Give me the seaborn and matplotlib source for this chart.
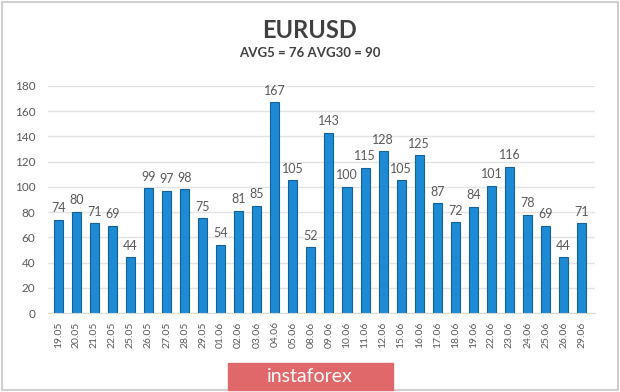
import pandas as pd
import matplotlib.pyplot as plt
import seaborn as sns
from matplotlib.patches import Rectangle

dates = ['19.05', '20.05', '21.05', '22.05', '25.05', '26.05', '27.05', '28.05',
         '29.05', '01.06', '02.06', '03.06', '04.06', '05.06', '08.06', '09.06',
         '10.06', '11.06', '12.06', '15.06', '16.06', '17.06', '18.06', '19.06',
         '22.06', '23.06', '24.06', '25.06', '26.06', '29.06']
values = [74, 80, 71, 69, 44, 99, 97, 98, 75, 54, 81, 85, 167, 105, 52, 143,
          100, 115, 128, 105, 125, 87, 72, 84, 101, 116, 78, 69, 44, 71]
title = 'EURUSD'
subtitle = 'AVG5 = 76 AVG30 = 90'


def set_plt_params():
    sns.set_style('white')
    plt.rcParams['font.family'] = ['Lato', 'DejaVu Sans']


def volatility_plot(df):
    fig = plt.figure(figsize=(6.2, 3.92), dpi=100)
    fig.patch.set_facecolor('white')
    fig.patches.append(Rectangle((0.003, 0.004), 0.994, 0.992, transform=fig.transFigure,
                                 fill=False, edgecolor='#cfcfcf', lw=1.5))
    ax = fig.add_axes([0.077, 0.2015, 0.883, 0.5795])
    sns.barplot(x='date', y='value', data=df, ax=ax, color='#1d8bd3',
                width=0.5, edgecolor='#13609a', linewidth=0.8, saturation=1)
    ax.set_ylim(0, 180)
    ax.set_xlim(-0.58, 29.75)
    ax.set_yticks(range(0, 181, 20))
    ax.yaxis.grid(True, color='#e3e3e3', lw=1)
    ax.set_axisbelow(True)
    for s in ['top', 'right', 'left']:
        ax.spines[s].set_visible(False)
    ax.spines['bottom'].set_color('#d9d9d9')
    ax.set_xlabel('')
    ax.set_ylabel('')
    ax.tick_params(axis='x', rotation=90, labelsize=7.5, colors='#595959', length=0, pad=6)
    ax.tick_params(axis='y', labelsize=8.5, colors='#595959', length=0, pad=9)
    for c in ax.containers:
        ax.bar_label(c, padding=4, fontsize=9, color='#595959')

    fig.text(0.5, 0.922, title, ha='center', va='center', fontsize=17,
             fontweight='bold', color='#404040')
    fig.text(0.5, 0.864, subtitle, ha='center', va='center', fontsize=9.5,
             fontweight='bold', color='#404040')

    # instaforex badge
    fig.patches.append(Rectangle((228 / 620, 2 / 392), 165 / 620, 27 / 392,
                                 transform=fig.transFigure, color='#e0676a'))
    fig.text(310 / 620, 15 / 392, 'instaforex', ha='center', va='center',
             fontsize=14, color='white')

    plt.savefig('out.png', dpi=100)


if __name__ == '__main__':
    set_plt_params()
    df = pd.DataFrame({'date': dates, 'value': values})
    volatility_plot(df)
